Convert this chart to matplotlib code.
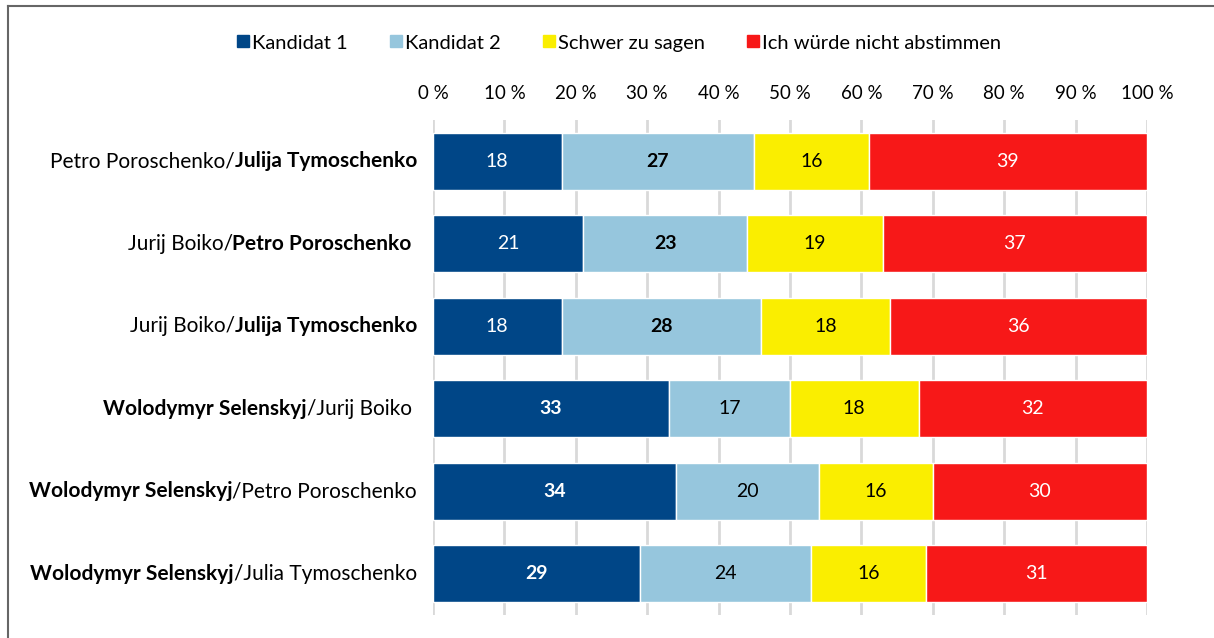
import matplotlib.pyplot as plt
import numpy as np
from matplotlib.lines import Line2D
from matplotlib.offsetbox import TextArea, HPacker, AnnotationBbox

plt.rcParams['font.family'] = ['Lato', 'DejaVu Sans']

# data
first_names = ["Petro Poroschenko/", "Jurij Boiko/", "Jurij Boiko/",
               "Wolodymyr Selenskyj", "Wolodymyr Selenskyj", "Wolodymyr Selenskyj"]
second_names = ["Julija Tymoschenko", "Petro Poroschenko ", "Julija Tymoschenko",
                "/Jurij Boiko ", "/Petro Poroschenko", "/Julia Tymoschenko"]
winner = [2, 2, 2, 1, 1, 1]  # which candidate is bold
kandidat1 = [18, 21, 18, 33, 34, 29]
kandidat2 = [27, 23, 28, 17, 20, 24]
schwer = [16, 19, 18, 18, 16, 16]
nicht = [39, 37, 36, 32, 30, 31]
series_names = ["Kandidat 1", "Kandidat 2", "Schwer zu sagen", "Ich würde nicht abstimmen"]
colors = ["#004687", "#96C6DD", "#FAEE00", "#F71818"]
text_colors = ["white", "black", "black", "white"]
ticks = np.arange(0, 101, 10)

fig = plt.figure(figsize=(12.14, 6.38), dpi=100)
ax = fig.add_axes([433/1214, 1-615/638, (1147-433)/1214, (615-120)/638])

y = np.arange(len(kandidat1))
series = [kandidat1, kandidat2, schwer, nicht]
left = np.zeros(len(y))
for i, vals in enumerate(series):
    vals = np.array(vals)
    ax.barh(y, vals, left=left, height=0.69, color=colors[i],
            edgecolor="white", linewidth=1, zorder=3)
    for j, v in enumerate(vals):
        bold = (winner[j] == i + 1)
        ax.text(left[j] + v/2, y[j], str(v), ha="center", va="center",
                fontsize=14, color=text_colors[i],
                fontweight="bold" if bold else "normal", zorder=4)
    left += vals

ax.set_xlim(0, 100)
ax.set_ylim(5.5, -0.5)
ax.set_xticks(ticks)
ax.set_xticklabels([f"{t} %" for t in ticks], fontsize=13.5)
ax.xaxis.tick_top()
ax.tick_params(axis="x", length=0, pad=13)
ax.set_yticks([])
ax.grid(axis="x", color="#d9d9d9", linewidth=2, zorder=0)
for s in ax.spines.values():
    s.set_visible(False)

# y labels with mixed bold
for j in range(len(y)):
    if winner[j] == 1:
        a = TextArea(first_names[j], textprops=dict(fontsize=15, fontweight="bold"))
        b = TextArea(second_names[j], textprops=dict(fontsize=15))
    else:
        a = TextArea(first_names[j], textprops=dict(fontsize=15))
        b = TextArea(second_names[j], textprops=dict(fontsize=15, fontweight="bold"))
    box = HPacker(children=[a, b], pad=0, sep=0, align="baseline")
    ab = AnnotationBbox(box, (0, y[j]), xybox=(-16, 0), xycoords=("axes fraction", "data"),
                        boxcoords="offset pixels", box_alignment=(1, 0.5),
                        frameon=False, annotation_clip=False)
    ax.add_artist(ab)

handles = [Line2D([], [], marker="s", linestyle="none", markersize=9,
                  markerfacecolor=c, markeredgecolor=c) for c in colors]
fig.legend(handles, series_names, loc="center", bbox_to_anchor=(618/1214, 1-43/638),
           ncol=4, frameon=False, fontsize=14.5, handletextpad=0.05, columnspacing=2.0,
           handlelength=0.8)

# frame lines (top and left)
fig.add_artist(Line2D([8/1214, 1], [1-6/638, 1-6/638], color="#666666", linewidth=1.5))
fig.add_artist(Line2D([8/1214, 8/1214], [0, 1-6/638], color="#666666", linewidth=1.5))

fig.savefig("out.png", dpi=100)
